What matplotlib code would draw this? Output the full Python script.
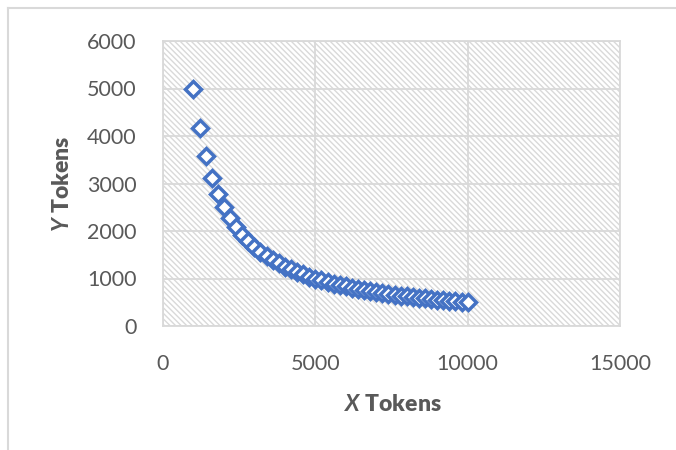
import matplotlib.pyplot as plt
from matplotlib.patches import Rectangle
from matplotlib.lines import Line2D

# token pairs: x tokens against y tokens
x_tokens = [1000, 1200, 1400, 1600, 1800, 2000, 2200, 2400, 2600, 2800,
            3000, 3200, 3400, 3600, 3800, 4000, 4200, 4400, 4600, 4800,
            5000, 5200, 5400, 5600, 5800, 6000, 6200, 6400, 6600, 6800,
            7000, 7200, 7400, 7600, 7800, 8000, 8200, 8400, 8600, 8800,
            9000, 9200, 9400, 9600, 9800, 10000]
y_tokens = [5000, 4167, 3571, 3125, 2778, 2500, 2273, 2083, 1923, 1786,
            1667, 1563, 1471, 1389, 1316, 1250, 1190, 1136, 1087, 1042,
            1000, 962, 926, 893, 862, 833, 806, 781, 758, 735,
            714, 694, 676, 658, 641, 625, 610, 595, 581, 568,
            556, 543, 532, 521, 510, 500]

x_ticks = [0, 5000, 10000, 15000]
y_ticks = [0, 1000, 2000, 3000, 4000, 5000, 6000]

plt.rcParams['font.family'] = ['Lato', 'DejaVu Sans']
plt.rcParams['mathtext.fontset'] = 'custom'
plt.rcParams['mathtext.it'] = 'Lato:italic:bold'
plt.rcParams['hatch.linewidth'] = 1.0

grey = '#d9d9d9'
text_grey = '#595959'

fig = plt.figure(figsize=(6.76, 4.5), dpi=100)
ax = fig.add_axes([163 / 676, 1 - 326 / 450, 457 / 676, 285 / 450])

# hatched plot area
ax.add_patch(Rectangle((0, 0), 1, 1, transform=ax.transAxes, facecolor='white',
                       edgecolor=grey, hatch='\\\\\\\\\\\\', lw=0, zorder=0))

ax.plot(x_tokens, y_tokens, linestyle='none', marker='D', markersize=8.6,
        markerfacecolor='white', markeredgecolor='#4472c4',
        markeredgewidth=2.5, zorder=3)

ax.set_xlim(0, 15000)
ax.set_ylim(0, 6000)
ax.set_xticks(x_ticks)
ax.set_yticks(y_ticks)
ax.grid(True, color=grey, lw=1.3, zorder=1)
ax.set_axisbelow(True)
ax.tick_params(length=0, labelsize=15.5, labelcolor=text_grey)
ax.tick_params(axis='y', pad=19)
ax.tick_params(axis='x', pad=20)
for s in ax.spines.values():
    s.set_color(grey)
    s.set_linewidth(1.3)

ax.set_xlabel(r'$\it{X}$ Tokens', fontsize=16.5, fontweight='heavy', color=text_grey)
ax.set_ylabel(r'$\it{Y}$ Tokens', fontsize=16.5, fontweight='heavy', color=text_grey)
ax.xaxis.label.set_va('center')
ax.yaxis.label.set_va('center')
ax.xaxis.set_label_coords(0.503, -0.277)
ax.yaxis.set_label_coords(-0.221, 0.5)

# chart frame (top and left edges)
fig.add_artist(Line2D([8 / 676, 8 / 676], [0, 1 - 8 / 450], color=grey, lw=1.5))
fig.add_artist(Line2D([8 / 676, 1], [1 - 8 / 450, 1 - 8 / 450], color=grey, lw=1.5))

fig.savefig('out.png', dpi=100)
